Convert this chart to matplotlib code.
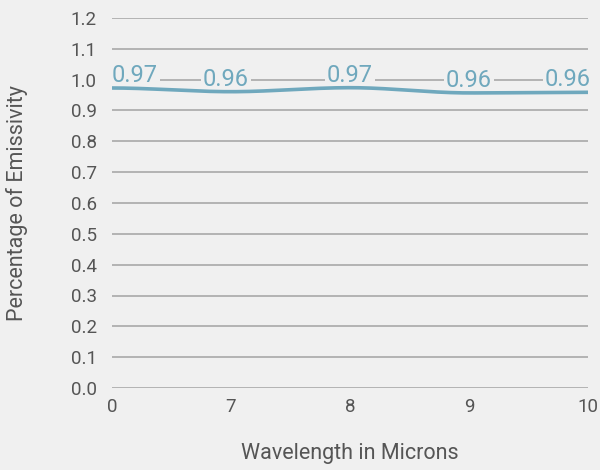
import numpy as np
import matplotlib
matplotlib.use("Agg")
import matplotlib.pyplot as plt

categories = ["0", "7", "8", "9", "10"]
emissivity = [0.973, 0.961, 0.974, 0.957, 0.959]
value_labels = ["0.97", "0.96", "0.97", "0.96", "0.96"]
y_ticks = [0.0, 0.1, 0.2, 0.3, 0.4, 0.5, 0.6, 0.7, 0.8, 0.9, 1.0, 1.1, 1.2]

BG = "#f0f0f0"
LINE = "#6fa8bd"
TEXT = "#555555"
GRID = "#a3a3a3"
FONT = "Roboto"

plt.rcParams["font.family"] = [FONT, "DejaVu Sans"]


def pchip(x, y, xs):
    x = np.asarray(x, float)
    y = np.asarray(y, float)
    h = np.diff(x)
    d = np.diff(y) / h
    m = np.zeros_like(y)
    for k in range(1, len(y) - 1):
        if d[k - 1] * d[k] > 0:
            w1 = 2 * h[k] + h[k - 1]
            w2 = h[k] + 2 * h[k - 1]
            m[k] = (w1 + w2) / (w1 / d[k - 1] + w2 / d[k])
    out = np.empty_like(xs)
    for i, xv in enumerate(xs):
        k = min(np.searchsorted(x, xv, side="right") - 1, len(x) - 2)
        t = (xv - x[k]) / h[k]
        h00 = 2 * t**3 - 3 * t**2 + 1
        h10 = t**3 - 2 * t**2 + t
        h01 = -2 * t**3 + 3 * t**2
        h11 = t**3 - t**2
        out[i] = h00 * y[k] + h10 * h[k] * m[k] + h01 * y[k + 1] + h11 * h[k] * m[k + 1]
    return out


fig = plt.figure(figsize=(6.0, 4.7), dpi=100, facecolor=BG)
ax = fig.add_axes([112 / 600, (470 - 388) / 470, 476 / 600, 370 / 470])
ax.set_facecolor(BG)

xi = np.arange(len(categories))
xs = np.linspace(0, len(categories) - 1, 400)
ax.plot(xs, pchip(xi, emissivity, xs), color=LINE, lw=2.6, solid_capstyle="butt", zorder=5)

ax.set_xlim(0, len(categories) - 1)
ax.set_ylim(0, 1.2)
ax.set_yticks(y_ticks)
ax.set_yticklabels([f"{v:.1f}" for v in y_ticks])
ax.set_xticks(xi)
ax.set_xticklabels(categories)
ax.tick_params(length=0, labelsize=13.5, labelcolor=TEXT)
ax.tick_params(axis="y", pad=11)
ax.tick_params(axis="x", pad=7)
ax.grid(axis="y", color=GRID, lw=1.1)
ax.grid(axis="x", visible=False)
ax.set_axisbelow(True)
for s in ax.spines.values():
    s.set_visible(False)

ax.set_xlabel("Wavelength in Microns", fontsize=15.5, color=TEXT)
ax.set_ylabel("Percentage of Emissivity", fontsize=15.5, color=TEXT)
ax.xaxis.set_label_coords(0.5, (388 - 453) / 370)
ax.xaxis.label.set_va("center")
ax.yaxis.set_label_coords((17 - 112) / 476, 0.5)
ax.yaxis.label.set_va("center")

has = ["left", "center", "center", "center", "right"]
dx = [0, -5, 0, 0, 3]
for i, (v, lab) in enumerate(zip(emissivity, value_labels)):
    ax.annotate(lab, (i, v), xytext=(dx[i], 1), textcoords="offset pixels",
                ha=has[i], va="bottom", fontsize=17, color=LINE, zorder=4,
                bbox=dict(boxstyle="square,pad=0.1", fc=BG, ec="none"),
                annotation_clip=False)

fig.savefig("out.png", dpi=100, facecolor=BG)
